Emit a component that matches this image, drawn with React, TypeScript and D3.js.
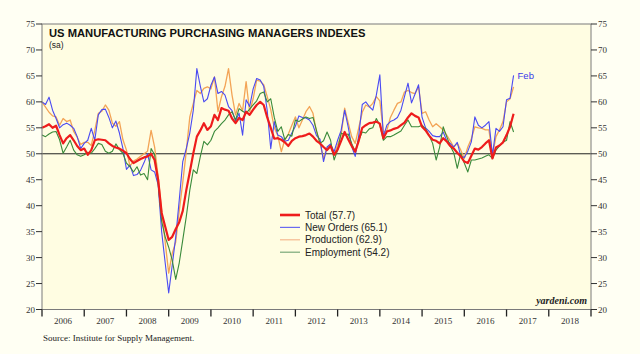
import React from 'react';
import * as d3 from 'd3';

const W = 640;
const H = 354;

// first observation is Dec 2005, monthly through Feb 2017
const startYear = 2005;
const startMonth = 12;

const yearLabels = [2006, 2007, 2008, 2009, 2010, 2011, 2012, 2013, 2014, 2015, 2016, 2017, 2018];
const yTicks = [20, 25, 30, 35, 40, 45, 50, 55, 60, 65, 70, 75];

const total = [
  55.0,
  55.3, 55.7, 55.0, 55.4, 53.6, 52.0, 53.0, 53.6, 52.6, 51.5, 50.7, 51.0,
  49.8, 50.7, 52.6, 52.8, 52.7, 52.6, 52.0, 51.5, 51.2, 51.0, 50.6, 50.1,
  49.0, 48.2, 48.6, 49.0, 49.3, 49.5, 50.0, 48.8, 45.0, 38.6, 36.0, 33.4,
  34.0, 35.5, 36.8, 39.0, 43.0, 46.5, 50.1, 53.3, 54.5, 55.9, 54.6, 55.3,
  57.5, 56.5, 58.8, 58.5, 58.3, 56.8, 55.9, 56.9, 56.5, 58.1, 57.5, 58.5,
  59.4, 60.0, 59.4, 57.0, 55.0, 52.9, 53.0, 52.7, 52.2, 51.5, 52.5, 53.0,
  53.3, 53.4, 53.6, 53.9, 53.3, 52.5, 52.0, 51.3, 50.7, 51.5, 49.8, 50.8,
  52.5, 54.2, 52.8, 51.5, 50.4, 52.5, 55.0, 55.5, 55.9, 56.0, 56.2, 55.8,
  53.0, 54.3, 54.5, 54.8, 55.0, 55.5, 56.0, 57.0, 57.8, 57.3, 57.0, 55.2,
  54.5, 53.5, 52.7, 52.5, 52.0, 53.0, 52.4, 51.5, 51.0, 50.2, 49.5, 48.5,
  48.2, 49.6, 51.0, 50.8, 51.3, 52.0, 52.6, 49.1, 51.2, 51.6, 52.2, 53.6,
  55.2, 57.7,
];

const newOrders = [
  60.0,
  59.5, 60.9, 58.4, 56.8, 55.0, 55.6, 55.9, 55.5, 54.9, 53.3, 51.0, 52.0,
  52.6, 54.9, 52.6, 57.5, 58.5, 58.6, 57.0, 55.0, 56.3, 54.0, 51.0, 47.0,
  47.8, 45.8, 46.0, 46.8, 48.3, 50.0, 46.9, 46.5, 44.0, 35.0, 29.0, 23.2,
  28.5, 34.0, 41.1, 48.5, 51.0, 54.0, 58.4, 66.4, 63.0, 60.0, 60.6, 63.2,
  64.8, 61.6, 62.0, 61.3, 59.1, 58.3, 56.3, 57.8, 53.6, 60.4, 59.1, 62.5,
  64.5, 64.2, 63.0, 58.3, 51.0, 56.2, 53.6, 53.3, 52.4, 52.6, 54.0, 55.3,
  57.3, 57.0, 56.9, 56.5, 55.5, 53.5, 52.8, 48.5, 51.3, 51.9, 50.4, 52.6,
  54.5, 58.4, 55.2, 51.4, 49.5, 53.5, 59.5, 60.0, 59.1, 58.4, 61.3, 65.2,
  53.3, 55.5, 56.2, 56.5, 57.0, 58.4, 61.0, 63.6, 59.8, 61.5, 63.3, 57.0,
  55.0, 54.3, 53.5, 53.3, 53.3, 54.2, 52.5, 52.0, 51.3, 52.2, 49.5, 49.3,
  50.5, 52.3, 57.1, 55.5, 55.0, 55.5, 56.2, 49.7, 54.9, 54.3, 55.2, 60.4,
  60.7, 65.1,
];

const production = [
  60.0,
  59.0, 58.0, 57.3, 57.1, 55.5, 56.8, 56.2, 56.5, 54.3, 53.2, 51.8, 52.2,
  52.2, 51.6, 54.5, 57.8, 58.2, 59.4, 58.4, 55.9, 55.3, 56.2, 52.7, 50.7,
  47.6, 48.6, 49.0, 49.5, 50.0, 50.5, 54.5, 51.3, 45.6, 39.0, 33.0, 27.0,
  30.8, 33.0, 39.0, 44.5, 50.5, 57.1, 59.7, 62.2, 61.6, 62.6, 62.9, 62.5,
  64.8, 58.1, 61.0, 63.0, 66.4, 61.3, 57.5, 59.7, 58.3, 63.9, 58.1, 60.6,
  64.2, 64.0, 63.3, 61.0, 58.5, 55.0, 53.5, 50.4, 52.7, 53.8, 55.5, 57.1,
  55.0, 56.5, 58.1, 59.1, 57.8, 54.2, 52.0, 49.1, 51.1, 51.7, 49.8, 51.7,
  53.6, 58.8, 56.0, 53.3, 52.0, 55.0, 58.0, 59.4, 59.0, 59.7, 61.0, 60.2,
  54.2, 54.5, 57.0, 58.4, 59.7, 60.0, 61.9, 62.2, 61.8, 61.6, 62.9, 57.8,
  58.1, 56.5, 55.2, 55.8, 55.2, 54.6, 53.6, 52.5, 51.3, 52.0, 50.7, 49.1,
  51.3, 52.9, 55.2, 55.0, 54.9, 54.6, 54.6, 49.7, 53.3, 54.6, 56.2, 60.0,
  60.6, 62.9,
];

const employment = [
  53.6,
  53.3, 53.8, 54.2, 54.3, 52.7, 50.1, 51.3, 52.6, 50.7, 49.8, 49.5, 49.8,
  50.3, 50.1, 51.0, 52.0, 51.8, 50.5, 50.1, 50.5, 51.9, 50.8, 50.1, 48.2,
  47.5, 46.5, 47.5, 45.9, 46.2, 45.0, 51.0, 49.8, 44.3, 37.0, 34.0, 32.0,
  29.5, 25.8, 29.0, 33.4, 37.9, 43.0, 46.9, 46.2, 49.5, 52.4, 51.7, 52.6,
  54.3, 55.0, 55.8, 56.5, 57.5, 58.1, 56.5, 58.7, 58.2, 57.8, 58.6, 59.4,
  60.2, 61.6, 61.9, 60.0, 60.6, 57.0, 54.3, 55.2, 52.7, 53.7, 53.4, 56.5,
  56.2, 56.7, 57.1, 56.8, 57.0, 54.5, 52.0, 52.5, 54.2, 52.6, 48.8, 50.7,
  54.0, 53.6, 53.8, 52.0, 50.4, 52.6, 54.2, 54.0, 54.8, 55.0, 56.8, 55.5,
  52.6, 53.3, 53.3, 53.6, 54.0, 54.4, 55.5, 56.5, 55.2, 55.2, 55.2, 55.5,
  54.8, 53.5, 52.0, 48.8, 51.3, 55.2, 53.3, 51.5, 50.2, 47.2, 50.1, 48.2,
  46.5, 48.8, 48.8, 49.0, 49.2, 49.5, 49.8, 49.1, 50.7, 51.5, 52.2, 52.6,
  56.2, 54.2,
];

const seriesNames = ['Total', 'New Orders', 'Production', 'Employment'];
const seriesData = [total, newOrders, production, employment];
const seriesColors = ['#ee1c1c', '#4a4af2', '#f3a456', '#3a8a3a'];
const legendColors = ['#ee1c1c', '#6a6af0', '#f6b890', '#7aa87a'];
const seriesWidths = [2.2, 1.1, 1.3, 1.1];
const drawOrder = [2, 1, 3, 0];

const title = 'US MANUFACTURING PURCHASING MANAGERS INDEXES';
const subtitle = '(sa)';
const source = 'Source: Institute for Supply Management.';
const brand = 'yardeni.com';
const lastLabel = 'Feb';

const plotLeft = 42;
const plotRight = 591;
const plotTop = 24;
const plotBottom = 309.5;

export default function App() {
  const x = d3.scaleLinear().domain([2006, 2019]).range([plotLeft, plotRight]);
  const y = d3.scaleLinear().domain([20, 75]).range([plotBottom, plotTop]);
  const tOf = (i: number) => startYear + (startMonth + i) / 12;

  const line = d3
    .line<number>()
    .x((_, i) => x(tOf(i)))
    .y((d) => y(d));

  const serif = "'Liberation Serif', 'Times New Roman', serif";
  const sans = "'Liberation Sans', Arial, sans-serif";

  const yearBounds = d3.range(2006, 2020);
  const lastIdx = newOrders.length - 1;

  return (
    <div style={{ position: 'absolute', left: 0, top: 0, width: W, height: H }}>
      <svg width={W} height={H} style={{ display: 'block' }}>
        <rect x={0} y={0} width={W} height={H} fill="#fffff3" />
        <rect
          x={plotLeft}
          y={plotTop}
          width={plotRight - plotLeft}
          height={plotBottom - plotTop}
          fill="#fffde2"
        />
        {/* title */}
        <text x={49} y={36.5} fontFamily={sans} fontWeight="bold" fontSize={11.2} fill="#111">
          {title}
        </text>
        <text x={49} y={48} fontFamily={sans} fontSize={8.5} fill="#222">
          {subtitle}
        </text>

        {/* 50 line */}
        <line x1={plotLeft} x2={plotRight} y1={y(50)} y2={y(50)} stroke="#222" strokeWidth={1} />

        {/* series */}
        {drawOrder.map((si) => (
          <path
            key={seriesNames[si]}
            d={line(seriesData[si]) || ''}
            fill="none"
            stroke={seriesColors[si]}
            strokeWidth={seriesWidths[si]}
            strokeLinejoin="round"
          />
        ))}

        <text
          x={x(tOf(lastIdx)) + 4}
          y={y(newOrders[lastIdx]) + 3.5}
          fontFamily={sans}
          fontSize={9.5}
          fill="#3a3ae8"
        >
          {lastLabel}
        </text>

        {/* frame */}
        <rect
          x={plotLeft}
          y={plotTop}
          width={plotRight - plotLeft}
          height={plotBottom - plotTop}
          fill="none"
          stroke="#7a7a7a"
          strokeWidth={1}
        />

        {/* y ticks */}
        {yTicks.map((v) => (
          <g key={v}>
            <line x1={plotLeft - 6} x2={plotLeft} y1={y(v)} y2={y(v)} stroke="#333" />
            <line x1={plotRight} x2={plotRight + 6} y1={y(v)} y2={y(v)} stroke="#333" />
            <text
              x={plotLeft - 7}
              y={y(v) + 3}
              textAnchor="end"
              fontFamily={serif}
              fontSize={9}
              fill="#333"
            >
              {v}
            </text>
            <text x={plotRight + 7} y={y(v) + 3} fontFamily={serif} fontSize={9} fill="#333">
              {v}
            </text>
          </g>
        ))}

        {/* x ticks */}
        {yearBounds.map((yr) => (
          <line
            key={yr}
            x1={x(yr)}
            x2={x(yr)}
            y1={plotBottom}
            y2={plotBottom + 7}
            stroke="#222"
            strokeWidth={1.3}
          />
        ))}
        {yearLabels.map((yr) => (
          <text
            key={yr}
            x={x(yr + 0.5)}
            y={plotBottom + 14}
            textAnchor="middle"
            fontFamily={serif}
            fontSize={9}
            fill="#333"
          >
            {yr}
          </text>
        ))}

        {/* legend */}
        {seriesNames.map((name, i) => {
          const ly = 215 + i * 12.4;
          const data = seriesData[i];
          return (
            <g key={name}>
              <line
                x1={280}
                x2={300}
                y1={ly}
                y2={ly}
                stroke={legendColors[i]}
                strokeWidth={i === 0 ? 2.6 : 1.2}
              />
              <text x={305} y={ly + 3.6} fontFamily={sans} fontSize={10} fill="#222">
                {`${name} (${data[data.length - 1].toFixed(1)})`}
              </text>
            </g>
          );
        })}

        <text
          x={587}
          y={304}
          textAnchor="end"
          fontFamily={serif}
          fontStyle="italic"
          fontWeight="bold"
          fontSize={10}
          fill="#222"
        >
          {brand}
        </text>

        <text x={43} y={341} fontFamily={serif} fontSize={9} fill="#222">
          {source}
        </text>
      </svg>
    </div>
  );
}
